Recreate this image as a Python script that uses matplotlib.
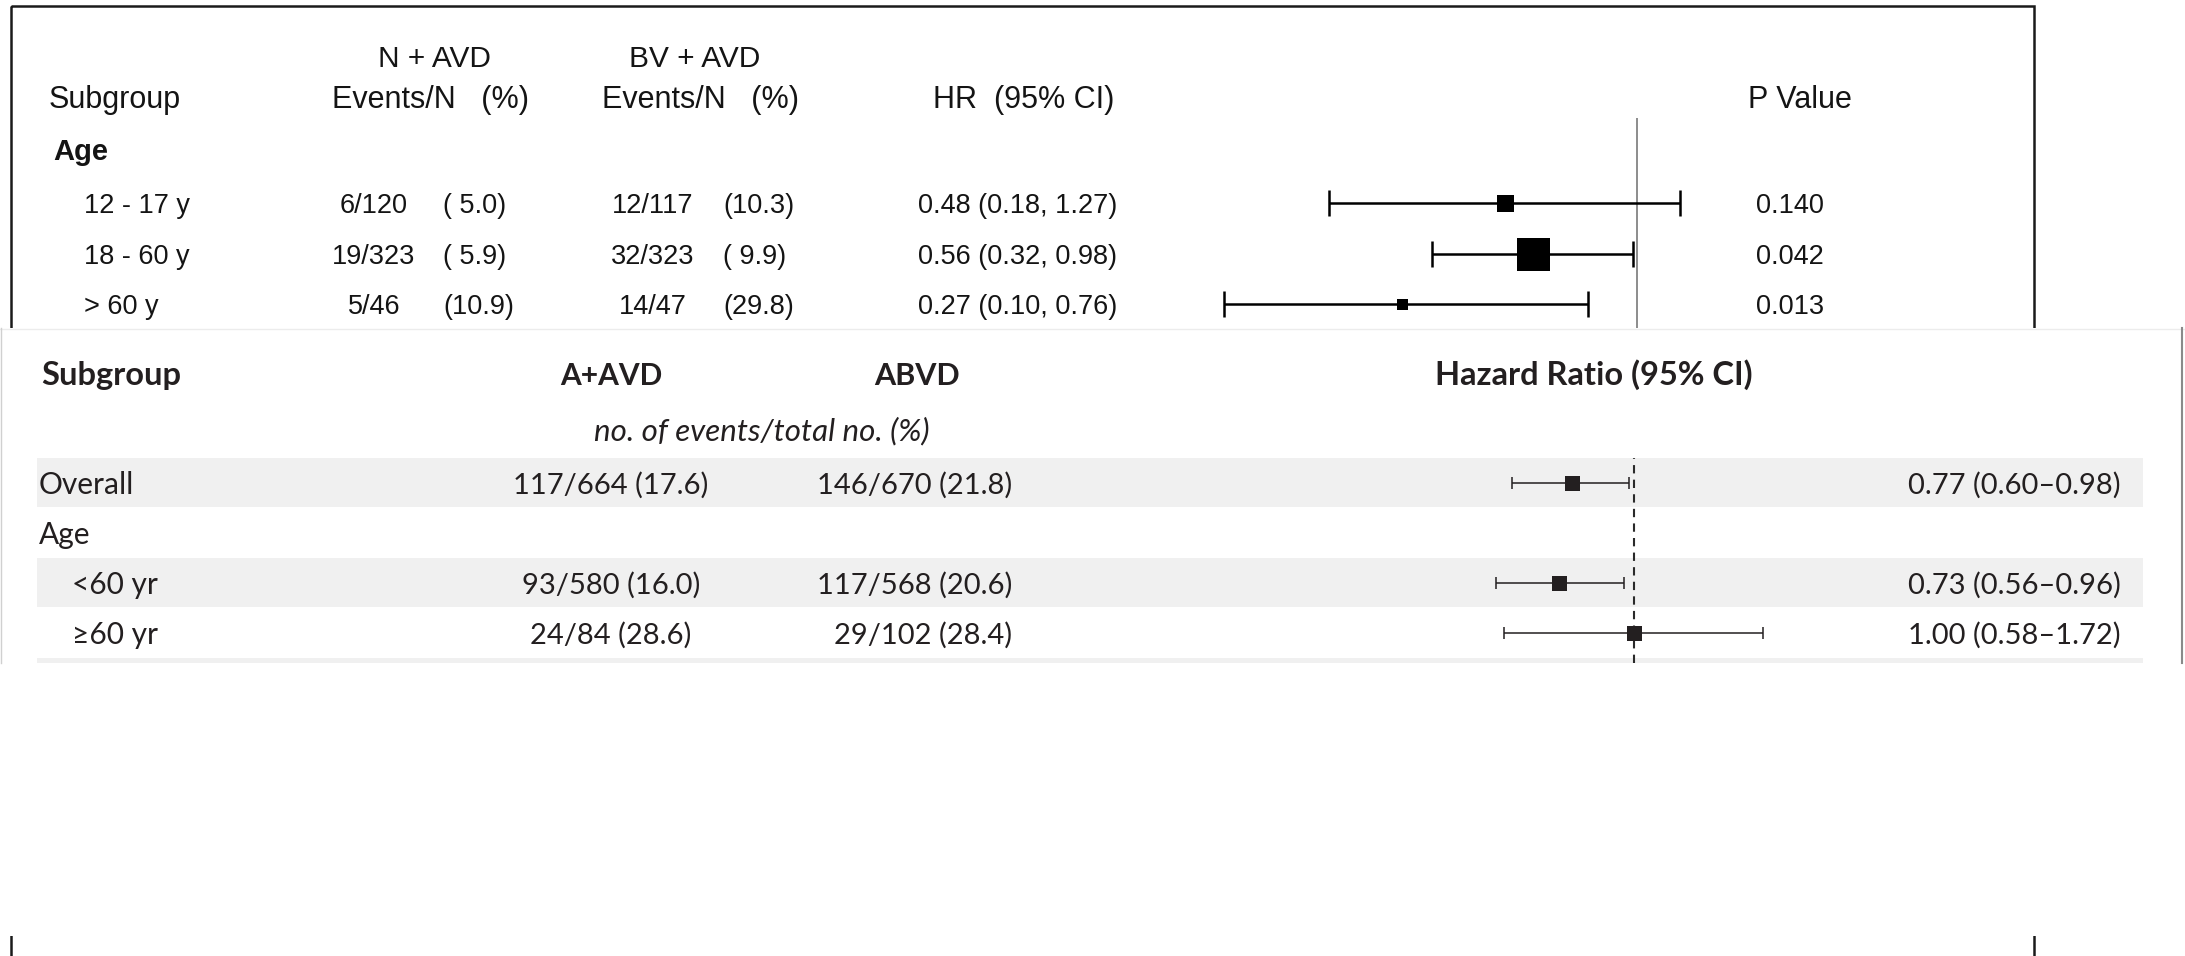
import numpy as np
import matplotlib.pyplot as plt
from matplotlib.patches import Rectangle

W, H = 2185, 956

# upper panel (N + AVD vs BV + AVD)
top_groups = ["12 - 17 y", "18 - 60 y", "> 60 y"]
nvd_events = [6, 19, 5]
nvd_total = [120, 323, 46]
nvd_pct = [5.0, 5.9, 10.9]
bv_events = [12, 32, 14]
bv_total = [117, 323, 47]
bv_pct = [10.3, 9.9, 29.8]
top_hr = [0.48, 0.56, 0.27]
top_lo = [0.18, 0.32, 0.10]
top_hi = [1.27, 0.98, 0.76]
top_p = ["0.140", "0.042", "0.013"]
top_box = [17, 33, 11]  # box size in px (weight)

# lower panel (A+AVD vs ABVD)
bot_groups = ["Overall", "Age", "<60 yr", "\u226560 yr"]
bot_indent = [False, False, True, True]
aavd_events = [117, None, 93, 24]
aavd_total = [664, None, 580, 84]
aavd_pct = [17.6, None, 16.0, 28.6]
abvd_events = [146, None, 117, 29]
abvd_total = [670, None, 568, 102]
abvd_pct = [21.8, None, 20.6, 28.4]
bot_hr = [0.77, None, 0.73, 1.00]
bot_lo = [0.60, None, 0.56, 0.58]
bot_hi = [0.98, None, 0.96, 1.72]

TOP_FONT = ["Liberation Sans", "DejaVu Sans"]
BOT_FONT = ["Lato", "DejaVu Sans"]
TOP_C = "#141414"
BOT_C = "#231f20"

fig = plt.figure(figsize=(W / 100, H / 100), dpi=100)


def px_axes(x0, x1, y0, y1):
    return fig.add_axes([x0 / W, 1 - y1 / H, (x1 - x0) / W, (y1 - y0) / H])


bg = fig.add_axes([0, 0, 1, 1])
bg.set_xlim(0, W)
bg.set_ylim(H, 0)
bg.axis("off")

# upper panel frame (bottom edge runs off the figure)
bg.add_patch(Rectangle((11, 6), 2023, 1100, fill=False, ec="#1a1a1a", lw=1.8, zorder=1))


def ttext(x, y, s, size=19.5, **kw):
    kw.setdefault("ha", "left")
    bg.text(x, y, s, family=TOP_FONT, fontsize=size, color=TOP_C, va="baseline", zorder=4, **kw)


ttext(435, 67, "N + AVD", size=21.5, ha="center")
ttext(695, 67, "BV + AVD", size=21.5, ha="center")
ttext(49, 108, "Subgroup", size=22)
ttext(431, 108, "Events/N   (%)", size=22, ha="center")
ttext(701, 108, "Events/N   (%)", size=22, ha="center")
ttext(933, 108, "HR  (95% CI)", size=22)
ttext(1800, 108, "P Value", size=22, ha="center")
ttext(53, 160, "Age", size=21, weight="bold")

for i, g in enumerate(top_groups):
    yb = 203 + 50.5 * i + 10
    ttext(84, yb, g)
    ttext(374, yb, f"{nvd_events[i]}/{nvd_total[i]}", ha="center")
    ttext(443, yb, f"({nvd_pct[i]:4.1f})")
    ttext(653, yb, f"{bv_events[i]}/{bv_total[i]}", ha="center")
    ttext(723, yb, f"({bv_pct[i]:4.1f})")
    ttext(918, yb, f"{top_hr[i]:.2f} ({top_lo[i]:.2f}, {top_hi[i]:.2f})")
    ttext(1790, yb, top_p[i], ha="center")

# upper forest
ax_t = px_axes(1200, 1720, 118, 328)
ax_t.set_zorder(1)
ax_t.patch.set_visible(False)
ax_t.set_xscale("log")
ax_t.set_xlim(np.exp((1200 - 1637) / 179.5), np.exp((1720 - 1637) / 179.5))
ax_t.set_ylim((328 - 203) / 50.5, (118 - 203) / 50.5)
ax_t.axis("off")
ax_t.axvline(1.0, color="#8c8c8c", lw=1.4)
for i in range(len(top_hr)):
    ax_t.errorbar(top_hr[i], i, xerr=[[top_hr[i] - top_lo[i]], [top_hi[i] - top_hr[i]]],
                  fmt="none", ecolor="black", elinewidth=1.8, capsize=9.7, capthick=1.8)
    ax_t.plot(top_hr[i], i, marker="s", ms=top_box[i] * 0.72, color="black", mew=0)

# lower panel covers the upper one
bg.add_patch(Rectangle((0, 328), W, 608, fc="white", ec="none", zorder=2))
bg.plot([0, W], [329, 329], color="#ececec", lw=1, zorder=3)
bg.plot([1, 1], [328, 663], color="#d0d0d0", lw=1, zorder=3)
bg.plot([2182, 2182], [328, 663], color="#8a8a8a", lw=1.5, zorder=3)
for i in range(0, 5, 2):
    top = 458 + 50 * i
    bg.add_patch(Rectangle((37, top), 2106, min(49, 663 - top), fc="#f0f0f0", ec="none", zorder=3))


def btext(x, y, s, size=21, **kw):
    kw.setdefault("ha", "left")
    bg.text(x, y, s, family=BOT_FONT, fontsize=size, color=BOT_C, va="baseline", zorder=4, **kw)


btext(41, 385, "Subgroup", size=23.5, weight="bold")
btext(611, 385, "A+AVD", size=21.5, ha="center", weight="bold")
btext(917, 385, "ABVD", size=22, ha="center", weight="bold")
btext(1594, 385, "Hazard Ratio (95% CI)", size=23.5, ha="center", weight="bold")
btext(762, 440, "no. of events/total no. (%)", size=22.5, ha="center", style="italic")

for i, g in enumerate(bot_groups):
    yb = 483 + 50 * i + 11
    btext(72 if bot_indent[i] else 39, yb, g, size=21.5)
    if aavd_events[i] is None:
        continue
    btext(611, yb, f"{aavd_events[i]}/{aavd_total[i]} ({aavd_pct[i]:.1f})", ha="center")
    btext(1012, yb, f"{abvd_events[i]}/{abvd_total[i]} ({abvd_pct[i]:.1f})", ha="right")
    btext(2121, yb, f"{bot_hr[i]:.2f} ({bot_lo[i]:.2f}\u2013{bot_hi[i]:.2f})", ha="right")

# lower forest
ax_b = px_axes(1400, 1920, 458, 663)
ax_b.set_zorder(1)
ax_b.patch.set_visible(False)
ax_b.set_xscale("log")
ax_b.set_xlim(np.exp((1400 - 1634) / 238), np.exp((1920 - 1634) / 238))
ax_b.set_ylim((663 - 483) / 50, (458 - 483) / 50)
ax_b.axis("off")
ax_b.axvline(1.0, color="#2a2a2a", lw=1.5, ls=(0, (4, 3)))
for i in range(len(bot_hr)):
    if bot_hr[i] is None:
        continue
    ax_b.errorbar(bot_hr[i], i, xerr=[[bot_hr[i] - bot_lo[i]], [bot_hi[i] - bot_hr[i]]],
                  fmt="none", ecolor=BOT_C, elinewidth=1.1, capsize=4.3, capthick=1.1)
    ax_b.plot(bot_hr[i], i, marker="s", ms=15 * 0.72, color=BOT_C, mew=0)

fig.savefig("out.png", dpi=100)
